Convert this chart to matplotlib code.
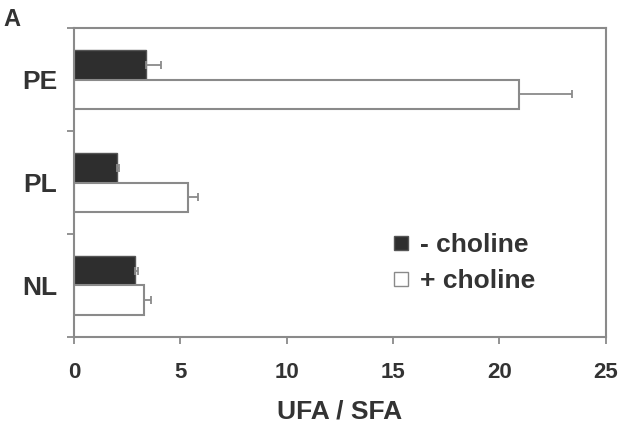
import numpy as np
import matplotlib.pyplot as plt
from matplotlib.lines import Line2D

classes = ["PE", "PL", "NL"]
minus_choline = [3.37, 2.0, 2.87]
minus_err = [0.7, 0.1, 0.12]
plus_choline = [20.9, 5.37, 3.29]
plus_err = [2.5, 0.45, 0.31]

plt.rcParams['font.family'] = ['Liberation Sans', 'DejaVu Sans']

fig = plt.figure(figsize=(6.22, 4.26), dpi=100)
ax = fig.add_axes([0.119, 0.209, 0.855, 0.725])

y = np.arange(len(classes))[::-1]
h = 0.286
gray = "#8a8a8a"
txt = "#333333"

ax.barh(y + h / 2, minus_choline, height=h, color="#2e2e2e", edgecolor="#555555",
        linewidth=1, xerr=[np.zeros(3), minus_err],
        error_kw=dict(ecolor=gray, elinewidth=1.3, capsize=3, capthick=1.3))
ax.barh(y - h / 2, plus_choline, height=h, color="white", edgecolor=gray,
        linewidth=1.5, xerr=[np.zeros(3), plus_err],
        error_kw=dict(ecolor=gray, elinewidth=1.3, capsize=3, capthick=1.3))

ax.set_xlim(0, 25)
ax.set_ylim(-0.5, 2.5)
ax.set_xticks([0, 5, 10, 15, 20, 25])
ax.set_yticks([-0.5, 0.5, 1.5, 2.5])
ax.set_yticklabels([])
ax.set_yticks(y, minor=True)
ax.set_yticklabels(classes, minor=True, fontsize=19, fontweight="bold", color=txt)
ax.tick_params(axis="y", which="minor", length=0, pad=12)
ax.tick_params(axis="y", which="major", length=5, color=gray, width=1.3)
ax.tick_params(axis="x", length=5, color=gray, width=1.3, labelsize=16,
               labelcolor=txt, pad=13)
for lab in ax.get_xticklabels():
    lab.set_fontweight("bold")

for s in ax.spines.values():
    s.set_color(gray)
    s.set_linewidth(1.5)

ax.set_xlabel("UFA / SFA", fontsize=19, fontweight="bold", color=txt, labelpad=12)

handles = [
    Line2D([], [], marker="s", linestyle="none", markersize=10,
           markerfacecolor="#2e2e2e", markeredgecolor="#555555"),
    Line2D([], [], marker="s", linestyle="none", markersize=10,
           markerfacecolor="white", markeredgecolor=gray),
]
ax.legend(handles, ["- choline", "+ choline"], loc="center left",
          bbox_to_anchor=(390 / 622, 1 - 263 / 426), bbox_transform=fig.transFigure,
          frameon=False, borderpad=0, borderaxespad=0,
          handlelength=0.8, handletextpad=0.33, labelspacing=0.45,
          labelcolor=txt, prop=dict(weight="bold", size=19))

fig.text(3 / 622, 1 - 8 / 426, "A", fontsize=17, fontweight="bold", color=txt, va="top")

fig.savefig("out.png", dpi=100)
